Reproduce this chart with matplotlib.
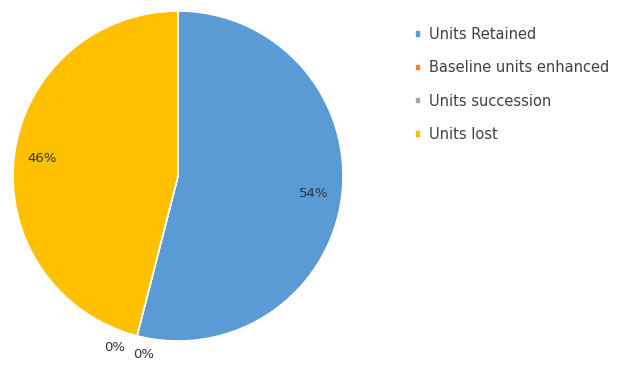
import matplotlib
matplotlib.use("Agg")
import matplotlib.pyplot as plt
import numpy as np

# ── data ──
categories = ["Units Retained", "Baseline units enhanced", "Units succession", "Units lost"]
values = [54, 0, 0, 46]
colors = ["#5B9BD5", "#ED7D31", "#A5A5A5", "#FFC000"]

fig = plt.figure(figsize=(6.25, 3.65), dpi=100)
ax = fig.add_axes([13 / 625, 24 / 365, 330 / 625, 330 / 365])

wedges, texts, autotexts = ax.pie(
    values,
    colors=colors,
    startangle=90,
    counterclock=False,
    autopct="%1.0f%%",
    pctdistance=0.83,
    wedgeprops=dict(edgecolor="white", linewidth=1.2),
    textprops=dict(fontsize=9.5, color="#333333"),
)
ax.set_xlim(-1, 1)
ax.set_ylim(-1, 1)
ax.set_aspect("equal")

# zero slices: push labels outside, one each side of the boundary
zero_idx = [i for i, v in enumerate(values) if v == 0]
for k, i in enumerate(zero_idx):
    w = wedges[i]
    ang = np.deg2rad((w.theta1 + w.theta2) / 2)
    x, y = 1.07 * np.cos(ang), 1.07 * np.sin(ang)
    shift = -0.12 if k == 0 else 0.06
    autotexts[i].set_position((x + shift, y - 0.045 * k))
    autotexts[i].set_clip_on(False)

leg = fig.legend(
    wedges, categories,
    loc="upper left", bbox_to_anchor=(402 / 625, 1 - 14 / 365),
    frameon=False, fontsize=10.5,
    handlelength=0.4, handleheight=0.4, handletextpad=0.55,
    labelspacing=1.26,
)
for t in leg.get_texts():
    t.set_color("#404040")

plt.savefig("out.png", dpi=100)
